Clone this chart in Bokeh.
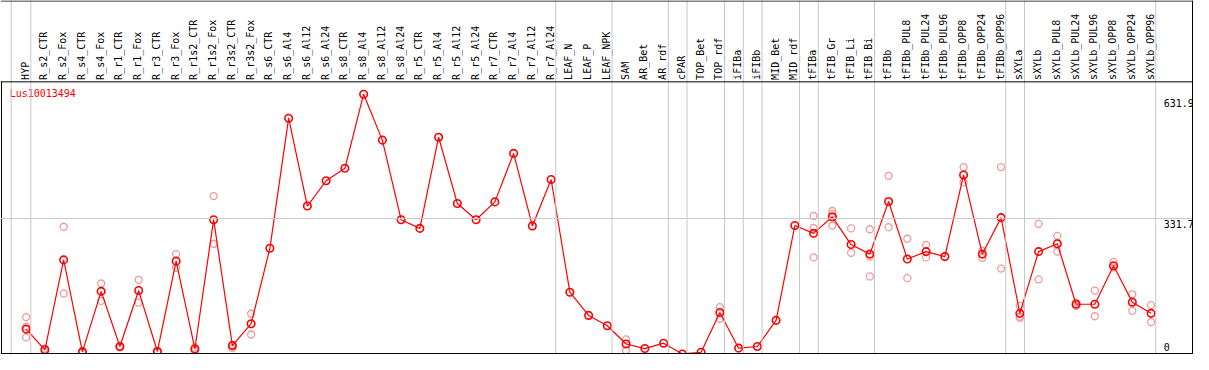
import math
from bokeh.plotting import figure
from bokeh.models import Range1d, Span, ColumnDataSource
from bokeh.core.properties import value
from bokeh.embed import file_html
from bokeh.resources import INLINE

title = "Lus10013494"

categories = [
    "HYP", "R_s2_CTR", "R_s2_Fox", "R_s4_CTR", "R_s4_Fox", "R_r1_CTR", "R_r1_Fox",
    "R_r3_CTR", "R_r3_Fox", "R_r1s2_CTR", "R_r1s2_Fox", "R_r3s2_CTR", "R_r3s2_Fox",
    "R_s6_CTR", "R_s6_Al4", "R_s6_Al12", "R_s6_Al24", "R_s8_CTR", "R_s8_Al4",
    "R_s8_Al12", "R_s8_Al24", "R_r5_CTR", "R_r5_Al4", "R_r5_Al12", "R_r5_Al24",
    "R_r7_CTR", "R_r7_Al4", "R_r7_Al12", "R_r7_Al24", "LEAF_N", "LEAF_P", "LEAF_NPK",
    "SAM", "AR_Bet", "AR_rdf", "cPAR", "TOP_Bet", "TOP_rdf", "iFIBa", "iFIBb",
    "MID_Bet", "MID_rdf", "tFIBa", "tFIB_Gr", "tFIB_Li", "tFIB_Bi", "tFIBb",
    "tFIBb_PUL8", "tFIBb_PUL24", "tFIBb_PUL96", "tFIBb_OPP8", "tFIBb_OPP24",
    "tFIBb_OPP96", "sXYLa", "sXYLb", "sXYLb_PUL8", "sXYLb_PUL24", "sXYLb_PUL96",
    "sXYLb_OPP8", "sXYLb_OPP24", "sXYLb_OPP96",
]

means = [
    65, 15, 232, 10, 156, 23, 158, 11, 229, 17, 329, 25, 78,
    260, 574, 362, 423, 453, 631.9, 521, 329, 308, 528, 368, 329,
    372, 489, 314, 426, 154, 98, 73,
    29, 18, 31, 5, 9, 105, 19, 23, 86, 315,
    296, 336, 269, 246, 373, 234, 252, 240, 437, 246, 334,
    103, 252, 271, 125, 125, 218, 130, 103,
]

replicates = [
    [94, 71, 45], [18, 12], [312, 151], [12, 8], [175, 133], [24, 21], [184, 129],
    [12, 10], [246, 213], [21, 13], [386, 271], [19, 27], [102, 52],
    [], [], [], [], [], [], [], [], [], [], [], [],
    [], [], [], [], [], [], [],
    [40, 14], [], [], [], [], [118, 90], [], [], [], [],
    [338, 309, 238], [350, 343, 315], [308, 249], [306, 240, 192], [435, 311],
    [283, 188], [268, 238], [], [456, 419], [254, 237], [456, 211],
    [121, 92, 95], [319, 185], [290, 252], [129, 121], [158, 96], [227, 214],
    [149, 109], [123, 82],
]

# group boundaries (in category-index units)
group_bounds = [-0.8, 0.25, 28.25, 31.25, 34.25, 35.25, 37.25, 38.25, 39.25,
                41.25, 42.25, 45.25, 52.25, 53.25, 60.25]

tick_values = [631.9, 331.7, 0]
tick_labels = ["631.9", "331.7", "0"]
grid_values = [331.7]

RED = "#ff0000"
PALE = "#f09a9a"
GRID = "#c8c8c8"
FONT = value("DejaVu Sans Mono")

X0, X1 = -1.368, 62.263
Y0, Y1 = 3.69, 858.0
HEADER = 661.7
BOTTOM = 6.0
TOP = 856.8
LEFT = -1.316
RIGHT = 62.21

p = figure(width=1193, height=354, output_backend="svg", toolbar_location=None,
           x_range=Range1d(X0, X1), y_range=Range1d(Y0, Y1), min_border=0,
           background_fill_color="white", border_fill_color="white")
p.axis.visible = False
p.xaxis.visible = False
p.yaxis.visible = False
p.grid.visible = False
p.outline_line_color = None

# vertical group separators
for b in group_bounds:
    p.add_layout(Span(location=b, dimension="height", line_color=GRID, line_width=1))
# horizontal value grid
for g in grid_values:
    p.add_layout(Span(location=g, dimension="width", line_color=GRID, line_width=1))

# borders
p.add_layout(Span(location=TOP, dimension="width", line_color="black", line_width=1))
p.add_layout(Span(location=HEADER, dimension="width", line_color="black", line_width=1))
p.add_layout(Span(location=BOTTOM, dimension="width", line_color="black", line_width=1))
p.add_layout(Span(location=RIGHT, dimension="height", line_color="black", line_width=1))
p.segment(x0=[LEFT], y0=[BOTTOM], x1=[LEFT], y1=[HEADER], line_color="black", line_width=1)

idx = list(range(len(categories)))

# replicate points
rx, ry = [], []
for i, reps in enumerate(replicates):
    for r in reps:
        rx.append(i)
        ry.append(r)
p.scatter(rx, ry, marker="circle", size=7, fill_alpha=0, line_color=PALE, line_width=1.3)

# mean line and markers
src = ColumnDataSource(dict(x=idx, y=means, cat=categories))
p.line("x", "y", source=src, line_color=RED, line_width=1.2)
p.scatter("x", "y", source=src, marker="circle", size=7.5, fill_alpha=0,
          line_color=RED, line_width=1.6)

# category labels (rotated)
p.text(x=idx, y=[666.4] * len(idx), text=categories, angle=math.pi / 2,
       text_align="left", text_baseline="middle", x_offset=-1,
       text_font=FONT, text_font_size="10px", text_color="black")

# title
p.text(x=[-0.879], y=[634.7], text=[title], text_align="left", text_baseline="middle",
       text_font=FONT, text_font_size="10px", text_color=RED)

# value labels on right
p.text(x=[60.67] * 3, y=tick_values, text=tick_labels, text_align="left",
       text_baseline="middle", y_offset=[9, 5, -9],
       text_font=FONT, text_font_size="10px", text_color="black")

open("out.html", "w").write(file_html(p, INLINE))
